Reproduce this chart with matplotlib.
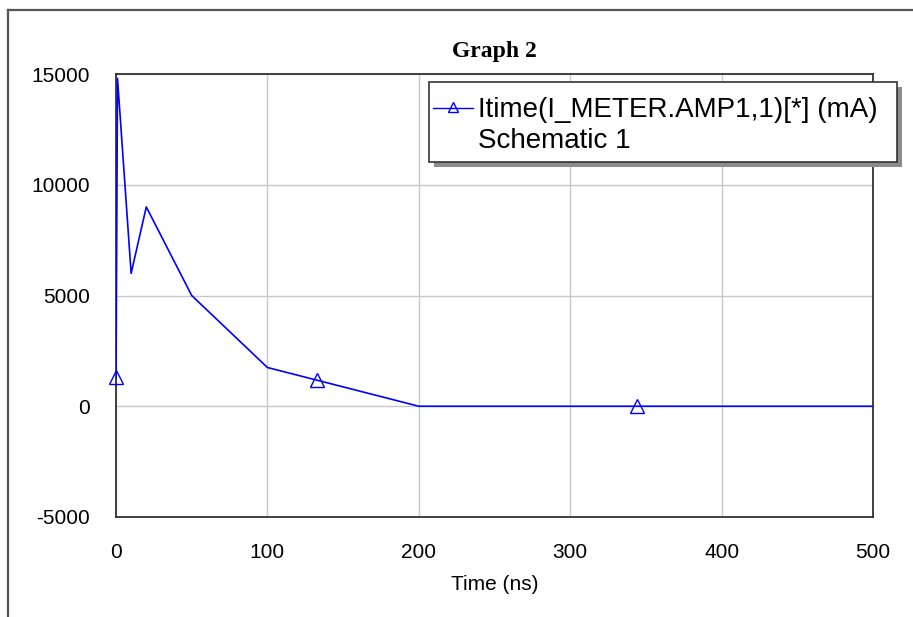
import matplotlib.pyplot as plt
import numpy as np
from matplotlib.lines import Line2D

plt.rcParams['axes.unicode_minus'] = False

# Itime(I_METER.AMP1,1)
time_ns = [0, 1, 10, 20, 50, 100, 200, 500]
current_ma = [1300, 14800, 6000, 9000, 5000, 1750, 0, 0]

# times where the simulator put its triangle markers
marker_t = [0, 133, 344]

x_ticks = [0, 100, 200, 300, 400, 500]
y_ticks = [-5000, 0, 5000, 10000, 15000]

legend_lines = ["Itime(I_METER.AMP1,1)[*] (mA)", "Schematic 1"]

fig = plt.figure(figsize=(9.13, 6.17), dpi=100)

# outer frame (top and left edges)
fig.add_artist(Line2D([8 / 913, 1], [1 - 9.5 / 617] * 2, color="#555555", lw=1.6))
fig.add_artist(Line2D([8 / 913] * 2, [0, 1 - 9.5 / 617], color="#555555", lw=1.6))

ax = fig.add_axes([116 / 913, 1 - 517 / 617, (873 - 116) / 913, (517 - 74) / 617])

ax.plot(time_ns, current_ma, color="#0000ff", lw=1.2, zorder=3)
marker_y = np.interp(marker_t, time_ns, current_ma)
ax.plot(marker_t, marker_y, ls="none", marker="^", ms=10, mfc="none",
        mec="#0000ff", mew=1.0, zorder=4, clip_on=False)

ax.set_xlim(0, 500)
ax.set_ylim(-5000, 15000)
ax.set_xticks(x_ticks)
ax.set_yticks(y_ticks)
ax.grid(True, color="#c8c8c8", lw=1.0)
ax.set_axisbelow(True)
ax.tick_params(length=0, pad=19)

for s in ax.spines.values():
    s.set_color("#333333")
    s.set_linewidth(1.3)

for lab in ax.get_yticklabels() + ax.get_xticklabels():
    lab.set_family("Liberation Sans")
    lab.set_fontsize(15)

ax.set_xlabel("Time (ns)", family="Liberation Sans", fontsize=15, labelpad=9)
ax.set_title("Graph 2", family="Liberation Serif", fontweight="bold",
             fontsize=17, pad=12)

# legend box with drop shadow
leg_x0, leg_y0, leg_x1, leg_y1 = 429 / 913, 1 - 162 / 617, 897 / 913, 1 - 82 / 617
shadow = plt.Rectangle((leg_x0 + 5 / 913, leg_y0 - 5 / 617), leg_x1 - leg_x0, leg_y1 - leg_y0,
                       transform=fig.transFigure, facecolor="#8c8c8c", edgecolor="none", zorder=5)
box = plt.Rectangle((leg_x0, leg_y0), leg_x1 - leg_x0, leg_y1 - leg_y0,
                    transform=fig.transFigure, facecolor="white", edgecolor="#333333",
                    lw=1.2, zorder=6)
fig.add_artist(shadow)
fig.add_artist(box)
fig.add_artist(Line2D([433 / 913, 473 / 913], [1 - 107.5 / 617] * 2, color="#0000ff",
                      lw=1.0, zorder=7))
fig.add_artist(Line2D([453 / 913], [1 - 107 / 617], ls="none", marker="^", ms=7,
                      mfc="none", mec="#0000ff", mew=1.0, zorder=7))
for i, line in enumerate(legend_lines):
    fig.text(478 / 913, 1 - (117 + 31 * i) / 617, line, family="Liberation Sans",
             fontsize=20, va="baseline", ha="left", zorder=8)

plt.savefig("out.png", dpi=100)
